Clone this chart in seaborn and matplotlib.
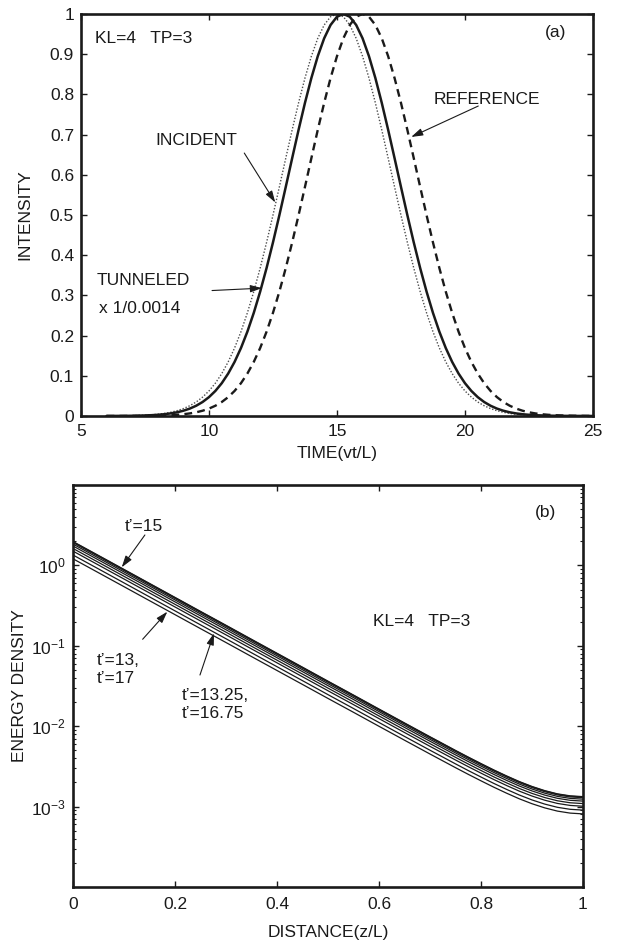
import numpy as np
import pandas as pd
import matplotlib
matplotlib.use("Agg")
import matplotlib.pyplot as plt
import seaborn as sns
from matplotlib.ticker import LogLocator, NullFormatter, FixedLocator, FuncFormatter

# ---------------- data: panel (a) ----------------
time = np.linspace(6, 25, 77)   # vt/L, step 0.25

incident = [0.0001, 0.0002, 0.0003, 0.0005, 0.0008, 0.0013, 0.0019, 0.0029, 0.0043, 0.0063,
            0.0091, 0.0130, 0.0183, 0.0254, 0.0347, 0.0468, 0.0622, 0.0815, 0.1054, 0.1344,
            0.1690, 0.2096, 0.2564, 0.3093, 0.3679, 0.4316, 0.4994, 0.5698, 0.6412, 0.7116,
            0.7788, 0.8406, 0.8948, 0.9394, 0.9726, 0.9931, 1.0000, 0.9931, 0.9726, 0.9394,
            0.8948, 0.8406, 0.7788, 0.7116, 0.6412, 0.5698, 0.4994, 0.4316, 0.3679, 0.3093,
            0.2564, 0.2096, 0.1690, 0.1344, 0.1054, 0.0815, 0.0622, 0.0468, 0.0347, 0.0254,
            0.0183, 0.0130, 0.0091, 0.0063, 0.0043, 0.0029, 0.0019, 0.0013, 0.0008, 0.0005,
            0.0003, 0.0002, 0.0001, 0.0001, 0.0000, 0.0000, 0.0000]

tunneled = [0.0001, 0.0001, 0.0002, 0.0003, 0.0005, 0.0008, 0.0013, 0.0019, 0.0029, 0.0043,
            0.0063, 0.0091, 0.0130, 0.0183, 0.0254, 0.0347, 0.0468, 0.0622, 0.0815, 0.1054,
            0.1344, 0.1690, 0.2096, 0.2564, 0.3093, 0.3679, 0.4316, 0.4994, 0.5698, 0.6412,
            0.7116, 0.7788, 0.8406, 0.8948, 0.9394, 0.9726, 0.9931, 1.0000, 0.9931, 0.9726,
            0.9394, 0.8948, 0.8406, 0.7788, 0.7116, 0.6412, 0.5698, 0.4994, 0.4316, 0.3679,
            0.3093, 0.2564, 0.2096, 0.1690, 0.1344, 0.1054, 0.0815, 0.0622, 0.0468, 0.0347,
            0.0254, 0.0183, 0.0130, 0.0091, 0.0063, 0.0043, 0.0029, 0.0019, 0.0013, 0.0008,
            0.0005, 0.0003, 0.0002, 0.0001, 0.0001, 0.0000, 0.0000]

reference = [0.0000, 0.0000, 0.0000, 0.0001, 0.0001, 0.0002, 0.0003, 0.0005, 0.0008, 0.0013,
             0.0019, 0.0029, 0.0043, 0.0063, 0.0091, 0.0130, 0.0183, 0.0254, 0.0347, 0.0468,
             0.0622, 0.0815, 0.1054, 0.1344, 0.1690, 0.2096, 0.2564, 0.3093, 0.3679, 0.4316,
             0.4994, 0.5698, 0.6412, 0.7116, 0.7788, 0.8406, 0.8948, 0.9394, 0.9726, 0.9931,
             1.0000, 0.9931, 0.9726, 0.9394, 0.8948, 0.8406, 0.7788, 0.7116, 0.6412, 0.5698,
             0.4994, 0.4316, 0.3679, 0.3093, 0.2564, 0.2096, 0.1690, 0.1344, 0.1054, 0.0815,
             0.0622, 0.0468, 0.0347, 0.0254, 0.0183, 0.0130, 0.0091, 0.0063, 0.0043, 0.0029,
             0.0019, 0.0013, 0.0008, 0.0005, 0.0003, 0.0002, 0.0001]

# ---------------- data: panel (b) ----------------
distance = [0.0, 0.05, 0.1, 0.15, 0.2, 0.25, 0.3, 0.35, 0.4, 0.45, 0.5, 0.55, 0.6,
            0.65, 0.7, 0.725, 0.75, 0.775, 0.8, 0.825, 0.85, 0.875, 0.9, 0.925,
            0.95, 0.975, 1.0]   # z/L
# energy density profile of the t'=15 curve
profile_peak = [1.98, 1.329, 0.891, 0.597, 0.400, 0.268, 0.180, 0.1205, 0.0808, 0.0542,
                0.0363, 0.0244, 0.01635, 0.01098, 0.00739, 0.00608, 0.00500, 0.00413,
                0.00343, 0.00286, 0.00241, 0.00205, 0.00178, 0.00158, 0.00144, 0.00136,
                0.00133]
# relative level of each t' pair
t_prime = ["15", "14.75/15.25", "14.5/15.5", "14.25/15.75", "14/16",
           "13.75/16.25", "13.5/16.5", "13.25/16.75", "13/17"]
level = [1.00, 0.99, 0.97, 0.93, 0.88, 0.82, 0.76, 0.68, 0.61]

# ---------------- style ----------------
sns.set_theme(style="ticks")
plt.rcParams['font.family'] = ['Liberation Sans', 'DejaVu Sans']
plt.rcParams.update({
    'mathtext.fontset': 'custom',
    'mathtext.rm': 'Liberation Sans',
    'mathtext.it': 'Liberation Sans:italic',
    'text.color': 'k', 'axes.labelcolor': 'k',
    'xtick.color': 'k', 'ytick.color': 'k', 'axes.edgecolor': 'k',
})

FS = 12.5
fig = plt.figure(figsize=(6.18, 9.43), dpi=100)
fig.patch.set_facecolor('white')
ax1 = fig.add_axes([0.131, 0.5589, 0.8285, 0.4263])
ax2 = fig.add_axes([0.1181, 0.0594, 0.8252, 0.4263])

# ---------- panel (a) ----------
dfa = pd.DataFrame({'time': time, 'incident': incident,
                    'tunneled': tunneled, 'reference': reference})
sns.lineplot(data=dfa, x='time', y='incident', ax=ax1, color='0.3', lw=1.0,
             linestyle=(0, (1, 1.3)))
sns.lineplot(data=dfa, x='time', y='reference', ax=ax1, color='k', lw=1.7,
             linestyle=(0, (3.3, 2.2)))
sns.lineplot(data=dfa, x='time', y='tunneled', ax=ax1, color='k', lw=1.8)

ax1.set_xlim(5, 25)
ax1.set_ylim(0, 1)
ax1.xaxis.set_major_locator(FixedLocator([5, 10, 15, 20, 25]))
ax1.yaxis.set_major_locator(FixedLocator(np.round(np.arange(0, 1.01, 0.1), 1)))
ax1.yaxis.set_major_formatter(FuncFormatter(lambda v, p: f"{v:g}"))
ax1.set_xlabel("TIME(vt/L)", fontsize=FS)
ax1.set_ylabel("INTENSITY", fontsize=FS)
ax1.xaxis.set_label_coords(0.5, -0.075)
ax1.yaxis.set_label_coords(-0.095, 0.5)

arrow = dict(arrowstyle='-|>,head_length=0.7,head_width=0.22', color='k',
             lw=0.8, shrinkA=0, shrinkB=0, mutation_scale=10)
ax1.text(5.56, 0.94, "KL=4   TP=3", fontsize=FS, va='center', ha='left')
ax1.text(23.53, 0.954, "(a)", fontsize=FS, va='center', ha='center')
ax1.text(7.9, 0.684, "INCIDENT", fontsize=FS, va='center', ha='left')
ax1.annotate("", xy=(12.59, 0.531), xytext=(11.38, 0.654), arrowprops=arrow)
ax1.text(18.76, 0.786, "REFERENCE", fontsize=FS, va='center', ha='left')
ax1.annotate("", xy=(17.9, 0.694), xytext=(20.52, 0.771), arrowprops=arrow)
ax1.text(5.63, 0.337, "TUNNELED", fontsize=FS, va='center', ha='left')
ax1.text(5.71, 0.268, "x 1/0.0014", fontsize=FS, va='center', ha='left')
ax1.annotate("", xy=(12.07, 0.318), xytext=(10.12, 0.312), arrowprops=arrow)

# ---------- panel (b) ----------
rows = []
for name, lv in zip(t_prime, level):
    for z, p in zip(distance, profile_peak):
        rows.append({'distance': z, 'energy': p * lv, 'tprime': name})
dfb = pd.DataFrame(rows)
sns.lineplot(data=dfb, x='distance', y='energy', hue='tprime', hue_order=t_prime,
             palette=['k'] * len(t_prime), lw=0.9, legend=False,
             estimator=None, sort=False, ax=ax2)
ax2.set_yscale('log')
ax2.set_xlim(0, 1)
ax2.set_ylim(1e-4, 1e1)
ax2.xaxis.set_major_locator(FixedLocator([0, 0.2, 0.4, 0.6, 0.8, 1.0]))
ax2.xaxis.set_major_formatter(FuncFormatter(lambda v, p: f"{v:g}"))
ax2.yaxis.set_major_locator(FixedLocator([1e-3, 1e-2, 1e-1, 1e0]))
ax2.yaxis.set_minor_locator(LogLocator(base=10, subs=np.arange(2, 10), numticks=20))
ax2.yaxis.set_minor_formatter(NullFormatter())
ax2.set_xlabel("DISTANCE(z/L)", fontsize=FS)
ax2.set_ylabel("ENERGY DENSITY", fontsize=FS)
ax2.xaxis.set_label_coords(0.5, -0.095)
ax2.yaxis.set_label_coords(-0.09, 0.5)

ax2.text(0.927, 4.49, "(b)", fontsize=FS, va='center', ha='center')
ax2.text(0.589, 0.203, "KL=4   TP=3", fontsize=FS, va='center', ha='left')
ax2.text(0.102, 3.03, "t’=15", fontsize=FS, va='center', ha='left')
ax2.annotate("", xy=(0.0955, 0.946), xytext=(0.141, 2.39), arrowprops=arrow)
ax2.text(0.046, 0.0507, "t’=13,\nt’=17", fontsize=FS, va='center', ha='left',
         linespacing=1.25)
ax2.annotate("", xy=(0.185, 0.2655), xytext=(0.1366, 0.1205), arrowprops=arrow)
ax2.text(0.213, 0.01836, "t’=13.25,\nt’=16.75", fontsize=FS, va='center', ha='left',
         linespacing=1.25)
ax2.annotate("", xy=(0.2765, 0.143), xytext=(0.249, 0.0433), arrowprops=arrow)

for ax in (ax1, ax2):
    ax.set_facecolor('white')
    for s in ax.spines.values():
        s.set_visible(True)
        s.set_linewidth(1.9)
        s.set_color('k')
    ax.tick_params(which='major', direction='in', length=4.5, width=1.0,
                   top=True, right=True, labelsize=FS, pad=5)
ax2.tick_params(which='minor', direction='in', length=2.5, width=0.8,
                left=True, right=True)
ax1.tick_params(axis='x', pad=6)
ax2.tick_params(axis='x', pad=7)

fig.savefig("out.png", dpi=100, facecolor='white')
